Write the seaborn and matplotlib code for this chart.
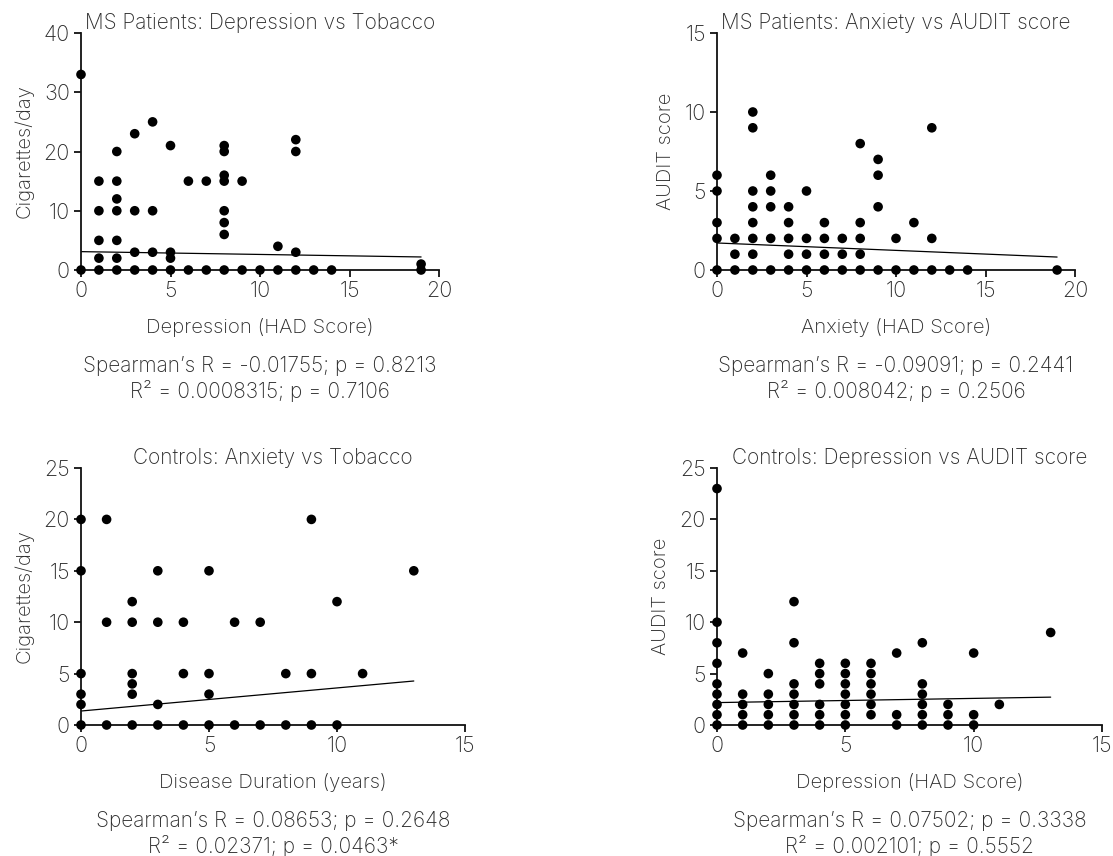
import seaborn as sns
import numpy as np
import pandas as pd
import matplotlib.pyplot as plt

# MS patients: depression vs tobacco
dep_tob_x = [0, 0,
             1, 1, 1, 1, 1,
             2, 2, 2, 2, 2, 2, 2,
             3, 3, 3, 3,
             4, 4, 4, 4,
             5, 5, 5, 5,
             6, 6, 7, 7,
             8, 8, 8, 8, 8, 8, 8, 8,
             9, 9, 10, 11, 11,
             12, 12, 12, 12,
             13, 14, 19, 19]
dep_tob_y = [0, 33,
             0, 2, 5, 10, 15,
             0, 2, 5, 10, 12, 15, 20,
             0, 3, 10, 23,
             0, 3, 10, 25,
             0, 2, 3, 21,
             0, 15, 0, 15,
             0, 6, 8, 10, 15, 16, 20, 21,
             0, 15, 0, 0, 4,
             0, 3, 20, 22,
             0, 0, 0, 1]
dep_tob_fit_x = [0, 19]
dep_tob_fit_y = [3.1, 2.2]

# MS patients: anxiety vs AUDIT
anx_aud_x = [0, 0, 0, 0, 0,
             1, 1, 1,
             2, 2, 2, 2, 2, 2, 2, 2,
             3, 3, 3, 3, 3,
             4, 4, 4, 4, 4,
             5, 5, 5, 5,
             6, 6, 6, 6,
             7, 7, 7,
             8, 8, 8, 8, 8,
             9, 9, 9, 9,
             10, 10, 11, 11,
             12, 12, 12,
             13, 14, 19]
anx_aud_y = [0, 2, 3, 5, 6,
             0, 1, 2,
             0, 1, 2, 3, 4, 5, 9, 10,
             0, 2, 4, 5, 6,
             0, 1, 2, 3, 4,
             0, 1, 2, 5,
             0, 1, 2, 3,
             0, 1, 2,
             0, 1, 2, 3, 8,
             0, 4, 6, 7,
             0, 2, 0, 3,
             0, 2, 9,
             0, 0, 0]
anx_aud_fit_x = [0, 19]
anx_aud_fit_y = [1.71, 0.82]

# Controls: anxiety vs tobacco (x labelled disease duration)
ctl_tob_x = [0, 0, 0, 0, 0, 0,
             1, 1, 1,
             2, 2, 2, 2, 2, 2,
             3, 3, 3, 3,
             4, 4, 4,
             5, 5, 5, 5,
             6, 6, 7, 7, 8, 8,
             9, 9, 9,
             10, 10, 11, 13]
ctl_tob_y = [0, 2, 3, 5, 15, 20,
             0, 10, 20,
             0, 3, 4, 5, 10, 12,
             0, 2, 10, 15,
             0, 5, 10,
             0, 3, 5, 15,
             0, 10, 0, 10, 0, 5,
             0, 5, 20,
             0, 12, 5, 15]
ctl_tob_fit_x = [0, 13]
ctl_tob_fit_y = [1.36, 4.28]

# Controls: depression vs AUDIT
ctl_aud_x = [0, 0, 0, 0, 0, 0, 0, 0, 0,
             1, 1, 1, 1, 1,
             2, 2, 2, 2, 2,
             3, 3, 3, 3, 3, 3, 3,
             4, 4, 4, 4, 4, 4,
             5, 5, 5, 5, 5, 5, 5,
             6, 6, 6, 6, 6, 6,
             7, 7, 7,
             8, 8, 8, 8, 8, 8,
             9, 9, 9,
             10, 10, 10,
             11, 13]
ctl_aud_y = [0, 1, 2, 3, 4, 6, 8, 10, 23,
             0, 1, 2, 3, 7,
             0, 1, 2, 3, 5,
             0, 1, 2, 3, 4, 8, 12,
             0, 1, 2, 4, 5, 6,
             0, 1, 2, 3, 4, 5, 6,
             1, 2, 3, 4, 5, 6,
             0, 1, 7,
             0, 1, 2, 3, 4, 8,
             0, 1, 2,
             0, 1, 7,
             2, 9]
ctl_aud_fit_x = [0, 13]
ctl_aud_fit_y = [2.18, 2.71]

panels = [
    dict(x=dep_tob_x, y=dep_tob_y, fx=dep_tob_fit_x, fy=dep_tob_fit_y,
         title='MS Patients: Depression vs Tobacco',
         xlabel='Depression (HAD Score)', ylabel='Cigarettes/day',
         xmax=20, ymax=40, ystep=10,
         stats="Spearman’s R = -0.01755; p = 0.8213\nR² = 0.0008315; p = 0.7106"),
    dict(x=anx_aud_x, y=anx_aud_y, fx=anx_aud_fit_x, fy=anx_aud_fit_y,
         title='MS Patients: Anxiety vs AUDIT score',
         xlabel='Anxiety (HAD Score)', ylabel='AUDIT score',
         xmax=20, ymax=15, ystep=5,
         stats="Spearman’s R = -0.09091; p = 0.2441\nR² = 0.008042; p = 0.2506"),
    dict(x=ctl_tob_x, y=ctl_tob_y, fx=ctl_tob_fit_x, fy=ctl_tob_fit_y,
         title='Controls: Anxiety vs Tobacco',
         xlabel='Disease Duration (years)', ylabel='Cigarettes/day',
         xmax=15, ymax=25, ystep=5,
         stats="Spearman’s R = 0.08653; p = 0.2648\nR² = 0.02371; p = 0.0463*"),
    dict(x=ctl_aud_x, y=ctl_aud_y, fx=ctl_aud_fit_x, fy=ctl_aud_fit_y,
         title='Controls: Depression vs AUDIT score',
         xlabel='Depression (HAD Score)', ylabel='AUDIT score',
         xmax=15, ymax=25, ystep=5,
         stats="Spearman’s R = 0.07502; p = 0.3338\nR² = 0.002101; p = 0.5552"),
]

# axes boxes in pixels: left, right, top, bottom
boxes = [(81, 439, 33, 270), (717, 1075, 33, 270),
         (81, 465, 468, 725), (717, 1102, 468, 725)]

W, H = 1113, 856
txt = '#2b2b2b'

sns.set_style('ticks')
plt.rcParams['font.family'] = ['Inter', 'DejaVu Sans']
plt.rcParams['font.weight'] = 'light'
plt.rcParams['axes.titleweight'] = 'light'
plt.rcParams['axes.labelweight'] = 'light'
plt.rcParams['text.color'] = txt
plt.rcParams['axes.labelcolor'] = txt
plt.rcParams['xtick.color'] = txt
plt.rcParams['ytick.color'] = txt

fig = plt.figure(figsize=(W / 100, H / 100), dpi=100)

for p, (l, r, t, b) in zip(panels, boxes):
    ax = fig.add_axes([l / W, 1 - b / H, (r - l) / W, (b - t) / H])
    df = pd.DataFrame({'x': p['x'], 'y': p['y']})
    fit = pd.DataFrame({'x': p['fx'], 'y': p['fy']})
    sns.lineplot(data=fit, x='x', y='y', ax=ax, color='black', lw=0.9)
    sns.scatterplot(data=df, x='x', y='y', ax=ax, color='black', s=48,
                    edgecolor='none', clip_on=False, zorder=5)
    ax.set_xlim(0, p['xmax'])
    ax.set_ylim(0, p['ymax'])
    ax.set_xticks(np.arange(0, p['xmax'] + 1, 5))
    ax.set_yticks(np.arange(0, p['ymax'] + 1, p['ystep']))
    sns.despine(ax=ax)
    for s in ('left', 'bottom'):
        ax.spines[s].set_linewidth(1.3)
        ax.spines[s].set_color('#111111')
    ax.tick_params(length=5, width=1.3, labelsize=15.5, pad=3, color='#111111')
    ax.set_title(p['title'], fontsize=15, pad=3, color=txt, fontweight='light')
    ax.set_xlabel(p['xlabel'], fontsize=14.6, labelpad=12)
    ax.set_ylabel(p['ylabel'], fontsize=14.5, labelpad=7)
    ax.annotate(p['stats'], xy=(0.5, 0), xycoords='axes fraction',
                xytext=(0, -86), textcoords='offset pixels',
                ha='center', va='top', fontsize=15, linespacing=1.2,
                fontweight='light')

fig.savefig('out.png', dpi=100)
